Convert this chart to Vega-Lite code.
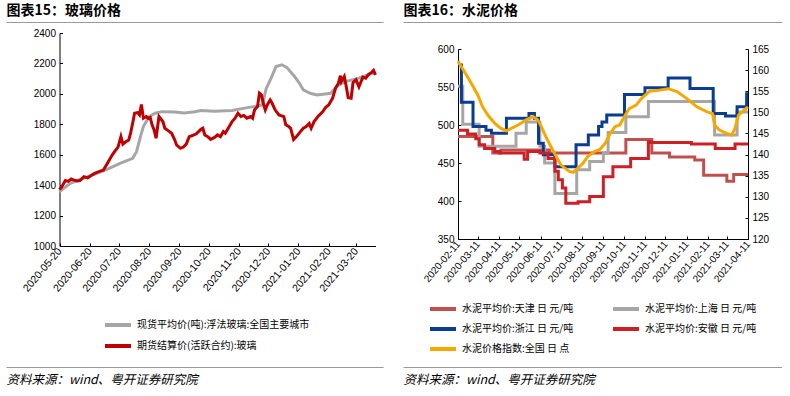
{
  "$schema": "https://vega.github.io/schema/vega-lite/v6.json",
  "padding": {"left": 6, "top": 3, "right": 0, "bottom": 0},
  "background": "white",
  "config": {
    "font": "Liberation Sans, Noto Sans CJK SC",
    "view": {"stroke": null},
    "axis": {"domainColor": "#000000", "tickColor": "#000000", "labelColor": "#000000", "labelFontSize": 10, "grid": false, "labelFont": "Liberation Sans", "labelOverlap": false, "labelFlush": false, "titleFont": "Noto Sans CJK SC", "titleColor": "#000000"},
    "legend": {"labelFont": "Noto Sans CJK SC", "labelFontSize": 10, "labelColor": "#000000", "symbolType": "M-1.3,0H1.3", "symbolSize": 400, "symbolStrokeWidth": 4, "labelOffset": 7, "labelLimit": 400}
  },
  "spacing": 20,
  "resolve": {"scale": {"color": "independent", "x": "independent", "y": "independent"}, "legend": {"color": "independent"}, "axis": {"x": "independent", "y": "independent"}},
  "hconcat": [
    {
      "width": 377, "height": 345,
      "data": {"values": [
        {"d":"2020-05-20","v":1356,"s":"现货平均价(吨):浮法玻璃:全国主要城市"},
        {"d":"2020-05-24","v":1378,"s":"现货平均价(吨):浮法玻璃:全国主要城市"},
        {"d":"2020-05-31","v":1411,"s":"现货平均价(吨):浮法玻璃:全国主要城市"},
        {"d":"2020-06-10","v":1437,"s":"现货平均价(吨):浮法玻璃:全国主要城市"},
        {"d":"2020-06-21","v":1462,"s":"现货平均价(吨):浮法玻璃:全国主要城市"},
        {"d":"2020-07-06","v":1499,"s":"现货平均价(吨):浮法玻璃:全国主要城市"},
        {"d":"2020-07-21","v":1543,"s":"现货平均价(吨):浮法玻璃:全国主要城市"},
        {"d":"2020-08-03","v":1576,"s":"现货平均价(吨):浮法玻璃:全国主要城市"},
        {"d":"2020-08-07","v":1620,"s":"现货平均价(吨):浮法玻璃:全国主要城市"},
        {"d":"2020-08-11","v":1719,"s":"现货平均价(吨):浮法玻璃:全国主要城市"},
        {"d":"2020-08-14","v":1785,"s":"现货平均价(吨):浮法玻璃:全国主要城市"},
        {"d":"2020-08-20","v":1851,"s":"现货平均价(吨):浮法玻璃:全国主要城市"},
        {"d":"2020-08-26","v":1873,"s":"现货平均价(吨):浮法玻璃:全国主要城市"},
        {"d":"2020-09-02","v":1883,"s":"现货平均价(吨):浮法玻璃:全国主要城市"},
        {"d":"2020-09-15","v":1881,"s":"现货平均价(吨):浮法玻璃:全国主要城市"},
        {"d":"2020-09-25","v":1874,"s":"现货平均价(吨):浮法玻璃:全国主要城市"},
        {"d":"2020-10-06","v":1883,"s":"现货平均价(吨):浮法玻璃:全国主要城市"},
        {"d":"2020-10-12","v":1890,"s":"现货平均价(吨):浮法玻璃:全国主要城市"},
        {"d":"2020-10-26","v":1886,"s":"现货平均价(吨):浮法玻璃:全国主要城市"},
        {"d":"2020-11-13","v":1890,"s":"现货平均价(吨):浮法玻璃:全国主要城市"},
        {"d":"2020-11-23","v":1903,"s":"现货平均价(吨):浮法玻璃:全国主要城市"},
        {"d":"2020-12-05","v":1916,"s":"现货平均价(吨):浮法玻璃:全国主要城市"},
        {"d":"2020-12-14","v":1927,"s":"现货平均价(吨):浮法玻璃:全国主要城市"},
        {"d":"2020-12-18","v":2037,"s":"现货平均价(吨):浮法玻璃:全国主要城市"},
        {"d":"2020-12-23","v":2103,"s":"现货平均价(吨):浮法玻璃:全国主要城市"},
        {"d":"2020-12-28","v":2180,"s":"现货平均价(吨):浮法玻璃:全国主要城市"},
        {"d":"2021-01-03","v":2191,"s":"现货平均价(吨):浮法玻璃:全国主要城市"},
        {"d":"2021-01-08","v":2174,"s":"现货平均价(吨):浮法玻璃:全国主要城市"},
        {"d":"2021-01-16","v":2114,"s":"现货平均价(吨):浮法玻璃:全国主要城市"},
        {"d":"2021-01-21","v":2070,"s":"现货平均价(吨):浮法玻璃:全国主要城市"},
        {"d":"2021-01-25","v":2026,"s":"现货平均价(吨):浮法玻璃:全国主要城市"},
        {"d":"2021-02-01","v":2004,"s":"现货平均价(吨):浮法玻璃:全国主要城市"},
        {"d":"2021-02-08","v":1993,"s":"现货平均价(吨):浮法玻璃:全国主要城市"},
        {"d":"2021-02-22","v":2004,"s":"现货平均价(吨):浮法玻璃:全国主要城市"},
        {"d":"2021-02-28","v":2048,"s":"现货平均价(吨):浮法玻璃:全国主要城市"},
        {"d":"2021-03-09","v":2081,"s":"现货平均价(吨):浮法玻璃:全国主要城市"},
        {"d":"2021-03-23","v":2103,"s":"现货平均价(吨):浮法玻璃:全国主要城市"},
        {"d":"2021-04-05","v":2136,"s":"现货平均价(吨):浮法玻璃:全国主要城市"},
        {"d":"2021-04-09","v":2136,"s":"现货平均价(吨):浮法玻璃:全国主要城市"},
        {"d":"2020-05-20","v":1371,"s":"期货结算价(活跃合约):玻璃"},
        {"d":"2020-05-22","v":1385,"s":"期货结算价(活跃合约):玻璃"},
        {"d":"2020-05-26","v":1430,"s":"期货结算价(活跃合约):玻璃"},
        {"d":"2020-05-29","v":1425,"s":"期货结算价(活跃合约):玻璃"},
        {"d":"2020-06-01","v":1440,"s":"期货结算价(活跃合约):玻璃"},
        {"d":"2020-06-04","v":1433,"s":"期货结算价(活跃合约):玻璃"},
        {"d":"2020-06-07","v":1428,"s":"期货结算价(活跃合约):玻璃"},
        {"d":"2020-06-10","v":1430,"s":"期货结算价(活跃合约):玻璃"},
        {"d":"2020-06-14","v":1455,"s":"期货结算价(活跃合约):玻璃"},
        {"d":"2020-06-18","v":1448,"s":"期货结算价(活跃合约):玻璃"},
        {"d":"2020-06-21","v":1462,"s":"期货结算价(活跃合约):玻璃"},
        {"d":"2020-06-25","v":1477,"s":"期货结算价(活跃合约):玻璃"},
        {"d":"2020-06-30","v":1490,"s":"期货结算价(活跃合约):玻璃"},
        {"d":"2020-07-04","v":1499,"s":"期货结算价(活跃合约):玻璃"},
        {"d":"2020-07-08","v":1543,"s":"期货结算价(活跃合约):玻璃"},
        {"d":"2020-07-13","v":1598,"s":"期货结算价(活跃合约):玻璃"},
        {"d":"2020-07-16","v":1625,"s":"期货结算价(活跃合约):玻璃"},
        {"d":"2020-07-19","v":1650,"s":"期货结算价(活跃合约):玻璃"},
        {"d":"2020-07-22","v":1719,"s":"期货结算价(活跃合约):玻璃"},
        {"d":"2020-07-24","v":1670,"s":"期货结算价(活跃合约):玻璃"},
        {"d":"2020-07-27","v":1685,"s":"期货结算价(活跃合约):玻璃"},
        {"d":"2020-07-30","v":1697,"s":"期货结算价(活跃合约):玻璃"},
        {"d":"2020-08-01","v":1745,"s":"期货结算价(活跃合约):玻璃"},
        {"d":"2020-08-03","v":1807,"s":"期货结算价(活跃合约):玻璃"},
        {"d":"2020-08-05","v":1872,"s":"期货结算价(活跃合约):玻璃"},
        {"d":"2020-08-08","v":1877,"s":"期货结算价(活跃合约):玻璃"},
        {"d":"2020-08-10","v":1862,"s":"期货结算价(活跃合约):玻璃"},
        {"d":"2020-08-12","v":1930,"s":"期货结算价(活跃合约):玻璃"},
        {"d":"2020-08-14","v":1840,"s":"期货结算价(活跃合约):玻璃"},
        {"d":"2020-08-17","v":1851,"s":"期货结算价(活跃合约):玻璃"},
        {"d":"2020-08-19","v":1840,"s":"期货结算价(活跃合约):玻璃"},
        {"d":"2020-08-21","v":1845,"s":"期货结算价(活跃合约):玻璃"},
        {"d":"2020-08-23","v":1795,"s":"期货结算价(活跃合约):玻璃"},
        {"d":"2020-08-25","v":1763,"s":"期货结算价(活跃合约):玻璃"},
        {"d":"2020-08-27","v":1708,"s":"期货结算价(活跃合约):玻璃"},
        {"d":"2020-08-30","v":1851,"s":"期货结算价(活跃合约):玻璃"},
        {"d":"2020-09-03","v":1818,"s":"期货结算价(活跃合约):玻璃"},
        {"d":"2020-09-05","v":1774,"s":"期货结算价(活跃合约):玻璃"},
        {"d":"2020-09-08","v":1760,"s":"期货结算价(活跃合约):玻璃"},
        {"d":"2020-09-12","v":1741,"s":"期货结算价(活跃合约):玻璃"},
        {"d":"2020-09-15","v":1700,"s":"期货结算价(活跃合约):玻璃"},
        {"d":"2020-09-17","v":1664,"s":"期货结算价(活跃合约):玻璃"},
        {"d":"2020-09-21","v":1642,"s":"期货结算价(活跃合约):玻璃"},
        {"d":"2020-09-24","v":1650,"s":"期货结算价(活跃合约):玻璃"},
        {"d":"2020-09-27","v":1670,"s":"期货结算价(活跃合约):玻璃"},
        {"d":"2020-09-30","v":1719,"s":"期货结算价(活跃合约):玻璃"},
        {"d":"2020-10-02","v":1723,"s":"期货结算价(活跃合约):玻璃"},
        {"d":"2020-10-07","v":1736,"s":"期货结算价(活跃合约):玻璃"},
        {"d":"2020-10-12","v":1767,"s":"期货结算价(活跃合约):玻璃"},
        {"d":"2020-10-14","v":1774,"s":"期货结算价(活跃合约):玻璃"},
        {"d":"2020-10-16","v":1730,"s":"期货结算价(活跃合约):玻璃"},
        {"d":"2020-10-19","v":1719,"s":"期货结算价(活跃合约):玻璃"},
        {"d":"2020-10-22","v":1701,"s":"期货结算价(活跃合约):玻璃"},
        {"d":"2020-10-26","v":1714,"s":"期货结算价(活跃合约):玻璃"},
        {"d":"2020-10-29","v":1730,"s":"期货结算价(活跃合约):玻璃"},
        {"d":"2020-11-01","v":1719,"s":"期货结算价(活跃合约):玻璃"},
        {"d":"2020-11-04","v":1752,"s":"期货结算价(活跃合约):玻璃"},
        {"d":"2020-11-06","v":1741,"s":"期货结算价(活跃合约):玻璃"},
        {"d":"2020-11-09","v":1774,"s":"期货结算价(活跃合约):玻璃"},
        {"d":"2020-11-13","v":1818,"s":"期货结算价(活跃合约):玻璃"},
        {"d":"2020-11-16","v":1840,"s":"期货结算价(活跃合约):玻璃"},
        {"d":"2020-11-19","v":1872,"s":"期货结算价(活跃合约):玻璃"},
        {"d":"2020-11-22","v":1851,"s":"期货结算价(活跃合约):玻璃"},
        {"d":"2020-11-25","v":1858,"s":"期货结算价(活跃合约):玻璃"},
        {"d":"2020-11-28","v":1840,"s":"期货结算价(活跃合约):玻璃"},
        {"d":"2020-12-02","v":1851,"s":"期货结算价(活跃合约):玻璃"},
        {"d":"2020-12-04","v":1840,"s":"期货结算价(活跃合约):玻璃"},
        {"d":"2020-12-06","v":1895,"s":"期货结算价(活跃合约):玻璃"},
        {"d":"2020-12-09","v":1916,"s":"期货结算价(活跃合约):玻璃"},
        {"d":"2020-12-11","v":2004,"s":"期货结算价(活跃合约):玻璃"},
        {"d":"2020-12-13","v":1993,"s":"期货结算价(活跃合约):玻璃"},
        {"d":"2020-12-15","v":1938,"s":"期货结算价(活跃合约):玻璃"},
        {"d":"2020-12-17","v":1895,"s":"期货结算价(活跃合约):玻璃"},
        {"d":"2020-12-19","v":1927,"s":"期货结算价(活跃合约):玻璃"},
        {"d":"2020-12-22","v":1960,"s":"期货结算价(活跃合约):玻璃"},
        {"d":"2020-12-24","v":1938,"s":"期货结算价(活跃合约):玻璃"},
        {"d":"2020-12-27","v":1895,"s":"期货结算价(活跃合约):玻璃"},
        {"d":"2020-12-31","v":1862,"s":"期货结算价(活跃合约):玻璃"},
        {"d":"2021-01-05","v":1851,"s":"期货结算价(活跃合约):玻璃"},
        {"d":"2021-01-07","v":1796,"s":"期货结算价(活跃合约):玻璃"},
        {"d":"2021-01-10","v":1785,"s":"期货结算价(活跃合约):玻璃"},
        {"d":"2021-01-12","v":1774,"s":"期货结算价(活跃合约):玻璃"},
        {"d":"2021-01-15","v":1700,"s":"期货结算价(活跃合约):玻璃"},
        {"d":"2021-01-18","v":1719,"s":"期货结算价(活跃合约):玻璃"},
        {"d":"2021-01-22","v":1752,"s":"期货结算价(活跃合约):玻璃"},
        {"d":"2021-01-25","v":1774,"s":"期货结算价(活跃合约):玻璃"},
        {"d":"2021-01-28","v":1785,"s":"期货结算价(活跃合约):玻璃"},
        {"d":"2021-01-31","v":1805,"s":"期货结算价(活跃合约):玻璃"},
        {"d":"2021-02-02","v":1774,"s":"期货结算价(活跃合约):玻璃"},
        {"d":"2021-02-05","v":1818,"s":"期货结算价(活跃合约):玻璃"},
        {"d":"2021-02-09","v":1851,"s":"期货结算价(活跃合约):玻璃"},
        {"d":"2021-02-14","v":1883,"s":"期货结算价(活跃合约):玻璃"},
        {"d":"2021-02-17","v":1912,"s":"期货结算价(活跃合约):玻璃"},
        {"d":"2021-02-20","v":1927,"s":"期货结算价(活跃合约):玻璃"},
        {"d":"2021-02-24","v":1971,"s":"期货结算价(活跃合约):玻璃"},
        {"d":"2021-02-27","v":2037,"s":"期货结算价(活跃合约):玻璃"},
        {"d":"2021-03-02","v":2070,"s":"期货结算价(活跃合约):玻璃"},
        {"d":"2021-03-04","v":2119,"s":"期货结算价(活跃合约):玻璃"},
        {"d":"2021-03-05","v":2081,"s":"期货结算价(活跃合约):玻璃"},
        {"d":"2021-03-08","v":2114,"s":"期货结算价(活跃合约):玻璃"},
        {"d":"2021-03-10","v":2048,"s":"期货结算价(活跃合约):玻璃"},
        {"d":"2021-03-12","v":1975,"s":"期货结算价(活跃合约):玻璃"},
        {"d":"2021-03-15","v":1971,"s":"期货结算价(活跃合约):玻璃"},
        {"d":"2021-03-17","v":2075,"s":"期货结算价(活跃合约):玻璃"},
        {"d":"2021-03-20","v":2092,"s":"期货结算价(活跃合约):玻璃"},
        {"d":"2021-03-23","v":2046,"s":"期货结算价(活跃合约):玻璃"},
        {"d":"2021-03-27","v":2110,"s":"期货结算价(活跃合约):玻璃"},
        {"d":"2021-03-30","v":2103,"s":"期货结算价(活跃合约):玻璃"},
        {"d":"2021-04-02","v":2128,"s":"期货结算价(活跃合约):玻璃"},
        {"d":"2021-04-05","v":2141,"s":"期货结算价(活跃合约):玻璃"},
        {"d":"2021-04-07","v":2154,"s":"期货结算价(活跃合约):玻璃"},
        {"d":"2021-04-09","v":2125,"s":"期货结算价(活跃合约):玻璃"}
      ]},
      "resolve": {"scale": {"x": "independent"}, "axis": {"x": "independent"}},
      "layer": [
        {
          "mark": {"type": "line", "strokeWidth": 3},
          "encoding": {
            "x": {"field": "d", "type": "temporal",
              "scale": {"type": "utc", "range": [53.5, 369.5], "domain": [{"year":2020,"month":5,"date":20,"utc":true},{"year":2021,"month":4,"date":9,"utc":true}]},
              "axis": {"orient": "bottom", "offset": -121, "title": null, "format": "%Y-%m-%d", "labelAngle": -50, "tickSize": -3, "labelPadding": 6, "labelFontSize": 10.5, "labelOverlap": false,
                "values": [
                  {"year":2020,"month":5,"date":20,"utc":true},{"year":2020,"month":6,"date":20,"utc":true},{"year":2020,"month":7,"date":20,"utc":true},
                  {"year":2020,"month":8,"date":20,"utc":true},{"year":2020,"month":9,"date":20,"utc":true},{"year":2020,"month":10,"date":20,"utc":true},
                  {"year":2020,"month":11,"date":20,"utc":true},{"year":2020,"month":12,"date":20,"utc":true},{"year":2021,"month":1,"date":20,"utc":true},
                  {"year":2021,"month":2,"date":20,"utc":true},{"year":2021,"month":3,"date":20,"utc":true}
                ]}},
            "y": {"field": "v", "type": "quantitative",
              "scale": {"domain": [1000, 2400], "range": [224, 11], "nice": false, "zero": false},
              "axis": {"offset": -53.5, "title": null, "format": "d", "values": [1000,1200,1400,1600,1800,2000,2200,2400], "tickSize": -3, "labelPadding": 7}},
            "color": {"field": "s", "type": "nominal",
              "scale": {"domain": ["现货平均价(吨):浮法玻璃:全国主要城市", "期货结算价(活跃合约):玻璃"], "range": ["#A6A6A6", "#C00000"]},
              "legend": {"title": null, "orient": "none", "legendX": 100, "legendY": 291, "direction": "vertical", "rowPadding": 1}}
          }
        },
        {
          "mark": {"type": "point", "opacity": 0, "size": 0, "strokeWidth": 0},
          "encoding": {
            "x": {"field": "d", "type": "temporal",
              "axis": {"orient": "top", "labels": false, "ticks": false, "domain": true, "domainWidth": 1, "domainOpacity": 1, "domainColor": "#999999", "title": "图表15：玻璃价格", "titleAnchor": "start", "titleAlign": "left", "titleFontSize": 14, "titleFontWeight": "bold", "titlePadding": 5}}
          }
        },
        {
          "mark": {"type": "point", "opacity": 0, "size": 0, "strokeWidth": 0},
          "encoding": {
            "x": {"field": "d", "type": "temporal",
              "axis": {"orient": "bottom", "labels": false, "ticks": false, "domain": true, "domainWidth": 1, "domainOpacity": 1, "domainColor": "#999999", "title": "资料来源：wind、粤开证券研究院", "titleAnchor": "start", "titleAlign": "left", "titleFontSize": 12.5, "titleFontWeight": "normal", "titleFontStyle": "italic", "titlePadding": 6}}
          }
        }
      ]
    },
    {
      "width": 379, "height": 345,
      "resolve": {"scale": {"x": "independent", "y": "independent"}, "axis": {"x": "independent", "y": "independent"}},
      "layer": [
        {
          "data": {"values": [
            {"d":"2020-02-11","v":485,"s":"水泥平均价:天津  日  元/吨"},
            {"d":"2020-04-02","v":463,"s":"水泥平均价:天津  日  元/吨"},
            {"d":"2020-04-14","v":467,"s":"水泥平均价:天津  日  元/吨"},
            {"d":"2020-06-24","v":463,"s":"水泥平均价:天津  日  元/吨"},
            {"d":"2020-10-14","v":481,"s":"水泥平均价:天津  日  元/吨"},
            {"d":"2020-11-21","v":463,"s":"水泥平均价:天津  日  元/吨"},
            {"d":"2020-12-17","v":458,"s":"水泥平均价:天津  日  元/吨"},
            {"d":"2021-01-23","v":454,"s":"水泥平均价:天津  日  元/吨"},
            {"d":"2021-02-05","v":434,"s":"水泥平均价:天津  日  元/吨"},
            {"d":"2021-03-11","v":426,"s":"水泥平均价:天津  日  元/吨"},
            {"d":"2021-03-21","v":435,"s":"水泥平均价:天津  日  元/吨"},
            {"d":"2021-04-11","v":435,"s":"水泥平均价:天津  日  元/吨"},
            {"d":"2020-02-11","v":551,"s":"水泥平均价:上海  日  元/吨"},
            {"d":"2020-02-18","v":501,"s":"水泥平均价:上海  日  元/吨"},
            {"d":"2020-03-13","v":472,"s":"水泥平均价:上海  日  元/吨"},
            {"d":"2020-05-06","v":489,"s":"水泥平均价:上海  日  元/吨"},
            {"d":"2020-05-21","v":504,"s":"水泥平均价:上海  日  元/吨"},
            {"d":"2020-06-10","v":472,"s":"水泥平均价:上海  日  元/吨"},
            {"d":"2020-06-17","v":450,"s":"水泥平均价:上海  日  元/吨"},
            {"d":"2020-07-02","v":410,"s":"水泥平均价:上海  日  元/吨"},
            {"d":"2020-08-03","v":441,"s":"水泥平均价:上海  日  元/吨"},
            {"d":"2020-08-22","v":452,"s":"水泥平均价:上海  日  元/吨"},
            {"d":"2020-09-11","v":463,"s":"水泥平均价:上海  日  元/吨"},
            {"d":"2020-09-18","v":490,"s":"水泥平均价:上海  日  元/吨"},
            {"d":"2020-10-14","v":511,"s":"水泥平均价:上海  日  元/吨"},
            {"d":"2020-11-16","v":531,"s":"水泥平均价:上海  日  元/吨"},
            {"d":"2021-02-21","v":487,"s":"水泥平均价:上海  日  元/吨"},
            {"d":"2021-03-26","v":517,"s":"水泥平均价:上海  日  元/吨"},
            {"d":"2021-04-11","v":517,"s":"水泥平均价:上海  日  元/吨"},
            {"d":"2020-02-11","v":579,"s":"水泥平均价:浙江  日  元/吨"},
            {"d":"2020-02-16","v":530,"s":"水泥平均价:浙江  日  元/吨"},
            {"d":"2020-03-04","v":498,"s":"水泥平均价:浙江  日  元/吨"},
            {"d":"2020-03-23","v":493,"s":"水泥平均价:浙江  日  元/吨"},
            {"d":"2020-03-31","v":489,"s":"水泥平均价:浙江  日  元/吨"},
            {"d":"2020-04-22","v":509,"s":"水泥平均价:浙江  日  元/吨"},
            {"d":"2020-05-25","v":515,"s":"水泥平均价:浙江  日  元/吨"},
            {"d":"2020-06-02","v":509,"s":"水泥平均价:浙江  日  元/吨"},
            {"d":"2020-06-08","v":476,"s":"水泥平均价:浙江  日  元/吨"},
            {"d":"2020-06-15","v":461,"s":"水泥平均价:浙江  日  元/吨"},
            {"d":"2020-07-02","v":445,"s":"水泥平均价:浙江  日  元/吨"},
            {"d":"2020-08-02","v":474,"s":"水泥平均价:浙江  日  元/吨"},
            {"d":"2020-08-20","v":487,"s":"水泥平均价:浙江  日  元/吨"},
            {"d":"2020-09-04","v":498,"s":"水泥平均价:浙江  日  元/吨"},
            {"d":"2020-09-09","v":504,"s":"水泥平均价:浙江  日  元/吨"},
            {"d":"2020-09-16","v":513,"s":"水泥平均价:浙江  日  元/吨"},
            {"d":"2020-10-12","v":540,"s":"水泥平均价:浙江  日  元/吨"},
            {"d":"2020-11-11","v":549,"s":"水泥平均价:浙江  日  元/吨"},
            {"d":"2020-12-15","v":562,"s":"水泥平均价:浙江  日  元/吨"},
            {"d":"2021-01-16","v":548,"s":"水泥平均价:浙江  日  元/吨"},
            {"d":"2021-02-19","v":515,"s":"水泥平均价:浙江  日  元/吨"},
            {"d":"2021-03-09","v":512,"s":"水泥平均价:浙江  日  元/吨"},
            {"d":"2021-03-26","v":524,"s":"水泥平均价:浙江  日  元/吨"},
            {"d":"2021-04-09","v":541,"s":"水泥平均价:浙江  日  元/吨"},
            {"d":"2021-04-11","v":541,"s":"水泥平均价:浙江  日  元/吨"},
            {"d":"2020-02-11","v":493,"s":"水泥平均价:安徽  日  元/吨"},
            {"d":"2020-02-25","v":488,"s":"水泥平均价:安徽  日  元/吨"},
            {"d":"2020-03-08","v":482,"s":"水泥平均价:安徽  日  元/吨"},
            {"d":"2020-03-13","v":474,"s":"水泥平均价:安徽  日  元/吨"},
            {"d":"2020-03-21","v":469,"s":"水泥平均价:安徽  日  元/吨"},
            {"d":"2020-04-05","v":465,"s":"水泥平均价:安徽  日  元/吨"},
            {"d":"2020-04-12","v":463,"s":"水泥平均价:安徽  日  元/吨"},
            {"d":"2020-05-18","v":455,"s":"水泥平均价:安徽  日  元/吨"},
            {"d":"2020-05-23","v":465,"s":"水泥平均价:安徽  日  元/吨"},
            {"d":"2020-06-10","v":463,"s":"水泥平均价:安徽  日  元/吨"},
            {"d":"2020-06-22","v":456,"s":"水泥平均价:安徽  日  元/吨"},
            {"d":"2020-07-02","v":439,"s":"水泥平均价:安徽  日  元/吨"},
            {"d":"2020-07-07","v":428,"s":"水泥平均价:安徽  日  元/吨"},
            {"d":"2020-07-13","v":417,"s":"水泥平均价:安徽  日  元/吨"},
            {"d":"2020-07-18","v":397,"s":"水泥平均价:安徽  日  元/吨"},
            {"d":"2020-08-05","v":399,"s":"水泥平均价:安徽  日  元/吨"},
            {"d":"2020-08-22","v":406,"s":"水泥平均价:安徽  日  元/吨"},
            {"d":"2020-09-11","v":432,"s":"水泥平均价:安徽  日  元/吨"},
            {"d":"2020-09-25","v":445,"s":"水泥平均价:安徽  日  元/吨"},
            {"d":"2020-10-21","v":456,"s":"水泥平均价:安徽  日  元/吨"},
            {"d":"2020-11-16","v":478,"s":"水泥平均价:安徽  日  元/吨"},
            {"d":"2020-11-20","v":477,"s":"水泥平均价:安徽  日  元/吨"},
            {"d":"2021-01-18","v":475,"s":"水泥平均价:安徽  日  元/吨"},
            {"d":"2021-02-22","v":469,"s":"水泥平均价:安徽  日  元/吨"},
            {"d":"2021-03-23","v":475,"s":"水泥平均价:安徽  日  元/吨"},
            {"d":"2021-04-11","v":475,"s":"水泥平均价:安徽  日  元/吨"}
          ]},
          "mark": {"type": "line", "interpolate": "step-after", "strokeWidth": 3},
          "encoding": {
            "x": {"field": "d", "type": "temporal",
              "scale": {"type": "utc", "range": [55, 345], "domain": [{"year":2020,"month":2,"date":11,"utc":true},{"year":2021,"month":4,"date":11,"utc":true}]},
              "axis": {"orient": "bottom", "offset": -128, "title": null, "format": "%Y-%m-%d", "labelAngle": -50, "tickSize": -3, "labelPadding": 6, "labelFontSize": 10, "labelOverlap": false,
                "values": [
                  {"year":2020,"month":2,"date":11,"utc":true},{"year":2020,"month":3,"date":11,"utc":true},{"year":2020,"month":4,"date":11,"utc":true},
                  {"year":2020,"month":5,"date":11,"utc":true},{"year":2020,"month":6,"date":11,"utc":true},{"year":2020,"month":7,"date":11,"utc":true},
                  {"year":2020,"month":8,"date":11,"utc":true},{"year":2020,"month":9,"date":11,"utc":true},{"year":2020,"month":10,"date":11,"utc":true},
                  {"year":2020,"month":11,"date":11,"utc":true},{"year":2020,"month":12,"date":11,"utc":true},{"year":2021,"month":1,"date":11,"utc":true},
                  {"year":2021,"month":2,"date":11,"utc":true},{"year":2021,"month":3,"date":11,"utc":true},{"year":2021,"month":4,"date":11,"utc":true}
                ]}},
            "y": {"field": "v", "type": "quantitative",
              "scale": {"domain": [350, 600], "range": [217, 27], "nice": false, "zero": false},
              "axis": {"orient": "left", "offset": -55, "title": null, "values": [350,400,450,500,550,600], "tickSize": -3, "labelPadding": 7}},
            "color": {"field": "s", "type": "nominal",
              "scale": {"domain": ["水泥平均价:天津  日  元/吨", "水泥平均价:上海  日  元/吨", "水泥平均价:浙江  日  元/吨", "水泥平均价:安徽  日  元/吨", "水泥价格指数:全国  日  点"],
                        "range": ["#C0504D", "#A6A6A6", "#0A3D91", "#CC1F26", "#F5A800"]},
              "legend": {"title": null, "orient": "none", "legendX": 28, "legendY": 275, "direction": "horizontal", "columns": 2, "columnPadding": 27, "rowPadding": 0}}
          }
        },
        {
          "data": {"values": [
            {"d":"2020-02-11","v":162.1,"s":"水泥价格指数:全国  日  点"},
            {"d":"2020-02-16","v":160.8,"s":"水泥价格指数:全国  日  点"},
            {"d":"2020-02-25","v":158.4,"s":"水泥价格指数:全国  日  点"},
            {"d":"2020-03-03","v":156.4,"s":"水泥价格指数:全国  日  点"},
            {"d":"2020-03-11","v":154.1,"s":"水泥价格指数:全国  日  点"},
            {"d":"2020-03-18","v":151.3,"s":"水泥价格指数:全国  日  点"},
            {"d":"2020-03-26","v":149.3,"s":"水泥价格指数:全国  日  点"},
            {"d":"2020-04-05","v":147.4,"s":"水泥价格指数:全国  日  点"},
            {"d":"2020-04-14","v":146.2,"s":"水泥价格指数:全国  日  点"},
            {"d":"2020-04-22","v":145.6,"s":"水泥价格指数:全国  日  点"},
            {"d":"2020-04-29","v":146.2,"s":"水泥价格指数:全国  日  点"},
            {"d":"2020-05-09","v":147.0,"s":"水泥价格指数:全国  日  点"},
            {"d":"2020-05-21","v":148.2,"s":"水泥价格指数:全国  日  点"},
            {"d":"2020-05-31","v":149.0,"s":"水泥价格指数:全国  日  点"},
            {"d":"2020-06-07","v":148.2,"s":"水泥价格指数:全国  日  点"},
            {"d":"2020-06-12","v":146.6,"s":"水泥价格指数:全国  日  点"},
            {"d":"2020-06-20","v":143.8,"s":"水泥价格指数:全国  日  点"},
            {"d":"2020-06-30","v":140.7,"s":"水泥价格指数:全国  日  点"},
            {"d":"2020-07-11","v":137.5,"s":"水泥价格指数:全国  日  点"},
            {"d":"2020-07-23","v":136.0,"s":"水泥价格指数:全国  日  点"},
            {"d":"2020-07-29","v":135.8,"s":"水泥价格指数:全国  日  点"},
            {"d":"2020-08-02","v":136.4,"s":"水泥价格指数:全国  日  点"},
            {"d":"2020-08-12","v":137.9,"s":"水泥价格指数:全国  日  点"},
            {"d":"2020-08-19","v":139.5,"s":"水泥价格指数:全国  日  点"},
            {"d":"2020-08-29","v":140.7,"s":"水泥价格指数:全国  日  点"},
            {"d":"2020-09-06","v":141.2,"s":"水泥价格指数:全国  日  点"},
            {"d":"2020-09-14","v":142.7,"s":"水泥价格指数:全国  日  点"},
            {"d":"2020-09-21","v":145.0,"s":"水泥价格指数:全国  日  点"},
            {"d":"2020-09-28","v":146.6,"s":"水泥价格指数:全国  日  点"},
            {"d":"2020-10-05","v":147.0,"s":"水泥价格指数:全国  日  点"},
            {"d":"2020-10-12","v":149.0,"s":"水泥价格指数:全国  日  点"},
            {"d":"2020-10-19","v":150.9,"s":"水泥价格指数:全国  日  点"},
            {"d":"2020-10-29","v":151.7,"s":"水泥价格指数:全国  日  点"},
            {"d":"2020-11-06","v":153.3,"s":"水泥价格指数:全国  日  点"},
            {"d":"2020-11-18","v":155.0,"s":"水泥价格指数:全国  日  点"},
            {"d":"2020-11-30","v":155.2,"s":"水泥价格指数:全国  日  点"},
            {"d":"2020-12-15","v":155.6,"s":"水泥价格指数:全国  日  点"},
            {"d":"2020-12-28","v":154.9,"s":"水泥价格指数:全国  日  点"},
            {"d":"2021-01-11","v":153.3,"s":"水泥价格指数:全国  日  点"},
            {"d":"2021-01-26","v":151.3,"s":"水泥价格指数:全国  日  点"},
            {"d":"2021-02-10","v":150.1,"s":"水泥价格指数:全国  日  点"},
            {"d":"2021-02-18","v":149.7,"s":"水泥价格指数:全国  日  点"},
            {"d":"2021-02-21","v":147.0,"s":"水泥价格指数:全国  日  点"},
            {"d":"2021-02-28","v":145.8,"s":"水泥价格指数:全国  日  点"},
            {"d":"2021-03-11","v":145.0,"s":"水泥价格指数:全国  日  点"},
            {"d":"2021-03-18","v":144.6,"s":"水泥价格指数:全国  日  点"},
            {"d":"2021-03-23","v":146.2,"s":"水泥价格指数:全国  日  点"},
            {"d":"2021-03-28","v":149.3,"s":"水泥价格指数:全国  日  点"},
            {"d":"2021-04-05","v":150.5,"s":"水泥价格指数:全国  日  点"},
            {"d":"2021-04-11","v":151.3,"s":"水泥价格指数:全国  日  点"}
          ]},
          "mark": {"type": "line", "strokeWidth": 3},
          "encoding": {
            "x": {"field": "d", "type": "temporal",
              "scale": {"type": "utc", "range": [55, 345], "domain": [{"year":2020,"month":2,"date":11,"utc":true},{"year":2021,"month":4,"date":11,"utc":true}]},
              "axis": null},
            "y": {"field": "v", "type": "quantitative",
              "scale": {"domain": [120, 165], "range": [217, 27], "nice": false, "zero": false},
              "axis": {"orient": "right", "offset": -34, "title": null, "values": [120,125,130,135,140,145,150,155,160,165], "tickSize": -3, "labelPadding": 7}},
            "color": {"field": "s", "type": "nominal"}
          }
        },
        {
          "data": {"values": [{"d":"2020-02-11"},{"d":"2021-04-11"}]},
          "mark": {"type": "point", "opacity": 0, "size": 0, "strokeWidth": 0},
          "encoding": {
            "x": {"field": "d", "type": "temporal",
              "axis": {"orient": "top", "labels": false, "ticks": false, "domain": true, "domainWidth": 1, "domainOpacity": 1, "domainColor": "#999999", "title": "图表16：水泥价格", "titleAnchor": "start", "titleAlign": "left", "titleFontSize": 14, "titleFontWeight": "bold", "titlePadding": 5}}
          }
        },
        {
          "data": {"values": [{"d":"2020-02-11"},{"d":"2021-04-11"}]},
          "mark": {"type": "point", "opacity": 0, "size": 0, "strokeWidth": 0},
          "encoding": {
            "x": {"field": "d", "type": "temporal",
              "axis": {"orient": "bottom", "labels": false, "ticks": false, "domain": true, "domainWidth": 1, "domainOpacity": 1, "domainColor": "#999999", "title": "资料来源：wind、粤开证券研究院", "titleAnchor": "start", "titleAlign": "left", "titleFontSize": 12.5, "titleFontWeight": "normal", "titleFontStyle": "italic", "titlePadding": 6}}
          }
        }
      ]
    }
  ]
}
